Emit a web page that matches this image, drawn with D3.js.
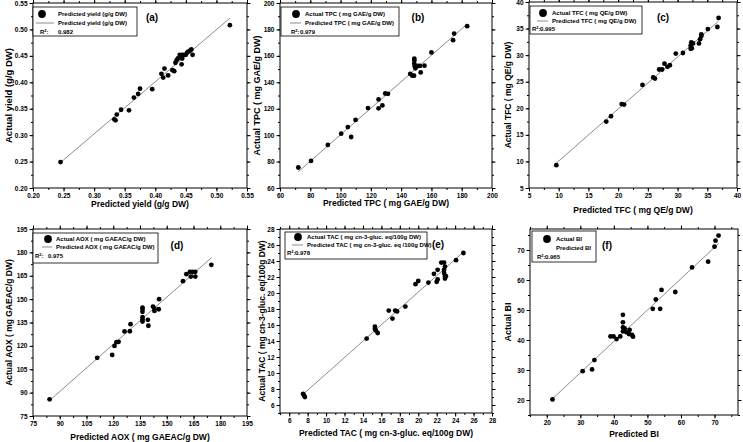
<!DOCTYPE html>
<html><head><meta charset="utf-8">
<script src="https://cdn.jsdelivr.net/npm/d3@7"></script>
<style>
body{margin:0;background:#fff}
text{font-family:"Liberation Sans",Arial,sans-serif;font-weight:bold;fill:#000}
</style>
</head><body>
<svg id="chart" width="743" height="442"></svg>
<script>
// ---------- data ----------
const yieldPred   = [0.245,0.333,0.335,0.337,0.344,0.357,0.365,0.372,0.375,0.395,0.410,0.413,0.415,0.421,0.428,0.431,0.433,0.435,0.437,0.440,0.444,0.443,0.444,0.447,0.450,0.452,0.454,0.457,0.459,0.461,0.522];
const yieldActual = [0.249,0.330,0.328,0.339,0.348,0.347,0.371,0.378,0.388,0.387,0.416,0.409,0.426,0.413,0.423,0.421,0.437,0.442,0.445,0.452,0.452,0.434,0.445,0.452,0.452,0.456,0.458,0.460,0.462,0.452,0.508];

const tpcPred   = [72.1,80.5,91.6,100.4,104.8,107,109.9,118.1,125.1,125.1,127.6,129.5,131.3,146,147.4,148.7,148.7,148.7,149,149.4,148.5,151.2,152.4,155.4,152.9,160,174.3,175,183.6];
const tpcActual = [75.5,80.5,92.6,101.1,106.1,98.6,111.5,120.5,127,120.3,122.5,131.5,131.3,146.3,145,157.9,156.4,154.1,152.1,150.6,145,152.4,152.4,152.6,147.5,162.6,171.9,176.9,182.5];

const tfcPred   = [9.6,18.0,18.8,20.6,21.0,24.1,25.9,26.2,26.9,27.4,27.8,28.3,28.7,29.7,30.9,32.2,32.2,32.3,32.6,32.4,33.6,33.8,34.0,34.0,35.1,36.7,36.9];
const tfcActual = [9.3,17.5,18.5,20.8,20.7,24.4,25.8,25.6,27.3,27.3,28.4,27.8,28.1,30.3,30.4,31.2,31.8,32.4,32.2,31.3,32.2,33.0,33.6,33.9,34.9,35.3,37.0];

const aoxPred   = [84.3,111,119.4,120.7,121.8,123,126.3,129.3,129.7,136.4,136.4,136.4,136.4,136.4,136.4,139.4,139.7,142.3,143.1,143.1,145.5,145.7,159.1,161,163,164.5,166,163.5,166,175];
const aoxActual = [85.7,112.3,114.2,120,122.4,122.6,129.3,129.4,133.9,136.9,138.4,135.6,143.6,141.9,144.6,136.7,132.9,145.2,143.9,142.4,143.5,150,161.5,166,167.5,167.5,167.5,164.5,164.5,172];

const tacPred   = [7.5,7.6,7.7,14.4,15.3,15.3,15.4,15.6,16.8,17.2,17.5,17.7,18.6,19.7,20.0,21.1,21.7,22.1,22.0,22.1,22.5,22.8,22.8,22.9,22.8,22.9,22.9,23.0,24.1,24.9];
const tacActual = [7.4,7.2,7.0,14.3,15.8,15.5,15.3,15.0,17.8,16.8,17.8,17.7,18.3,21.1,21.5,21.3,22.4,22.9,21.4,21.7,23.8,23.8,22.9,23.3,22.5,22.1,21.8,22.1,24.1,25.0];

const biPred   = [21.7,30.7,33.5,34.2,39.0,39.9,40.8,41.9,42.7,42.7,42.7,42.7,43.2,43.7,44.5,44.7,45.4,45.7,51.6,52.5,53.8,54.2,58.3,63.3,68.1,70.0,70.3,71.2];
const biActual = [20.2,29.6,30.2,33.3,41.2,41.2,40.3,41.2,48.4,45.9,44.2,42.9,43.9,42.6,42.0,43.4,41.7,41.1,50.4,53.5,50.4,56.7,56.0,64.2,66.1,71.1,73.1,74.8];

// tick labels
const yieldTicks = [0.20,0.25,0.30,0.35,0.40,0.45,0.50,0.55];
const tpcTicks   = [60,80,100,120,140,160,180,200];
const tfcTicks   = [5,10,15,20,25,30,35,40];
const aoxTicks   = [75,90,105,120,135,150,165,180,195];
const tacTicks   = [6,8,10,12,14,16,18,20,22,24,26,28];
const biTicks    = [20,30,40,50,60,70];

const r2Values = ["0.982","0.979","0.995","0.975","0.978","0.965"];
const panelTags = ["(a)","(b)","(c)","(d)","(e)","(f)"];

// ---------- layout ----------
const panels = [
  {tag:0, px:yieldPred, py:yieldActual, dom:[0.20,0.55], ticks:yieldTicks, minor:0.025, fmt:d3.format(".2f"),
   box:[33,247,3,188], xt:"Predicted yield (g/g DW)", yt:"Actual yield (g/g DW)", xtY:204, ytX:9, ytS:9.5,
   leg:{x0:33,x1:137,y0:7,y1:36,cx:42,tx:58,rows:[14,23,32],rx:40,vx:58}, lab:["Predicted yield (g/g DW)","Predicted yield (g/g DW)"], tagPos:[152,17]},
  {tag:1, px:tpcPred, py:tpcActual, dom:[60,200], ticks:tpcTicks, minor:10, fmt:d3.format("d"),
   box:[280,492,3,188], xt:"Predicted TPC ( mg GAE/g DW)", yt:"Actual TPC ( mg GAE/g DW)", xtY:203, ytX:257, ytS:9,
   leg:{x0:281,x1:399,y0:7,y1:36,cx:296,tx:305,rows:[14,23,32],rx:291,vx:300}, lab:["Actual TPC ( mg GAE/g DW)","Predicted TPC ( mg GAE/g DW)"], tagPos:[418,17]},
  {tag:2, px:tfcPred, py:tfcActual, dom:[5,40], ticks:tfcTicks, minor:2.5, fmt:d3.format("d"),
   box:[529,737,2,188], xt:"Predicted TFC ( mg QE/g DW)", yt:"Actual TFC ( mg QE/g DW)", xtY:210, ytX:508, ytS:8.5,
   leg:{x0:530,x1:642,y0:6,y1:34,cx:543,tx:552,rows:[13,21,29],rx:532,vx:540}, lab:["Actual TFC ( mg QE/g DW)","Predicted TFC ( mg QE/g DW)"], tagPos:[663,17]},
  {tag:3, px:aoxPred, py:aoxActual, dom:[75,195], ticks:aoxTicks, minor:7.5, fmt:d3.format("d"),
   box:[33,247,229,416], xt:"Predicted AOX ( mg GAEAC/g DW)", yt:"Actual AOX ( mg GAEAC/g DW)", xtY:437, ytX:9, ytS:8.5,
   leg:{x0:33,x1:158,y0:233,y1:263,cx:48,tx:56,rows:[239,247,256],rx:35,vx:48}, lab:["Actual AOX ( mg GAEAC/g DW)","Predicted AOX ( mg GAEAC/g DW)"], tagPos:[177,245]},
  {tag:4, px:tacPred, py:tacActual, dom:[5,28], ticks:tacTicks, minor:1, fmt:d3.format("d"),
   box:[280,492,229,413], xt:"Predicted TAC ( mg cn-3-gluc. eq/100g DW)", yt:"Actual TAC ( mg cn-3-gluc. eq/100g DW)", xtY:433, ytX:262, ytS:8.5,
   leg:{x0:285,x1:427,y0:232,y1:259,cx:298,tx:307,rows:[237,245,253],rx:287,vx:295}, lab:["Actual TAC ( mg cn-3-gluc. eq/100g DW)","Predicted TAC ( mg cn-3-gluc. eq /100g DW)"], tagPos:[438,244]},
  {tag:5, px:biPred, py:biActual, dom:[15,77], ticks:biTicks, minor:5, fmt:d3.format("d"),
   box:[530,738,229,415], xt:"Predicted BI", yt:"Actual BI", xtY:434, ytX:508, ytS:9,
   leg:{x0:532,x1:596,y0:231,y1:262,cx:547,tx:556,rows:[239,248,257],rx:537,vx:545,noLine:true}, lab:["Actual BI","Predicted BI"], tagPos:[607,245]}
];

const svg = d3.select("#chart");

function minorVals(dom, step){
  const out=[]; const s=Math.ceil(dom[0]/step-1e-9);
  for(let i=s; i*step<=dom[1]+1e-9; i++) out.push(+(i*step).toFixed(6));
  return out;
}

panels.forEach(p=>{
  const [l,r,t,b] = p.box;
  const x = d3.scaleLinear().domain(p.dom).range([l,r]);
  const y = d3.scaleLinear().domain(p.dom).range([b,t]);
  const g = svg.append("g");
  const mv = minorVals(p.dom, p.minor);

  const styleAxis = sel=>{ sel.select(".domain").remove(); sel.selectAll("line").attr("stroke","#000"); };

  g.append("g").attr("transform",`translate(0,${b})`).call(d3.axisBottom(x).tickValues(mv).tickSize(2).tickFormat("")).call(styleAxis);
  g.append("g").attr("transform",`translate(${l},0)`).call(d3.axisLeft(y).tickValues(mv).tickSize(2).tickFormat("")).call(styleAxis);
  g.append("g").attr("transform",`translate(0,${t})`).call(d3.axisTop(x).tickValues(mv).tickSize(2).tickFormat("")).call(styleAxis);
  g.append("g").attr("transform",`translate(${r},0)`).call(d3.axisRight(y).tickValues(mv).tickSize(2).tickFormat("")).call(styleAxis);
  const bx = g.append("g").attr("transform",`translate(0,${b})`).call(d3.axisBottom(x).tickValues(p.ticks).tickSize(3.5).tickPadding(2).tickFormat(p.fmt)).call(styleAxis);
  const ly = g.append("g").attr("transform",`translate(${l},0)`).call(d3.axisLeft(y).tickValues(p.ticks).tickSize(3.5).tickPadding(2).tickFormat(p.fmt)).call(styleAxis);
  g.append("g").attr("transform",`translate(0,${t})`).call(d3.axisTop(x).tickValues(p.ticks).tickSize(3.5).tickFormat("")).call(styleAxis);
  g.append("g").attr("transform",`translate(${r},0)`).call(d3.axisRight(y).tickValues(p.ticks).tickSize(3.5).tickFormat("")).call(styleAxis);
  [bx,ly].forEach(a=>a.selectAll("text").style("font-size","6.5px").style("font-family",'"Liberation Sans",Arial,sans-serif').style("font-weight","bold"));

  g.append("rect").attr("x",l).attr("y",t).attr("width",r-l).attr("height",b-t).attr("fill","none").attr("stroke","#000").attr("stroke-width",1);

  // least-squares fit line
  const n=p.px.length, mx=d3.mean(p.px), my=d3.mean(p.py);
  let sxy=0,sxx=0; for(let i=0;i<n;i++){sxy+=(p.px[i]-mx)*(p.py[i]-my); sxx+=(p.px[i]-mx)**2;}
  const slope=sxy/sxx, icpt=my-slope*mx;
  const [x0,x1]=d3.extent(p.px);
  g.append("line").attr("x1",x(x0)).attr("y1",y(icpt+slope*x0)).attr("x2",x(x1)).attr("y2",y(icpt+slope*x1))
    .attr("stroke","#8c8c8c").attr("stroke-width",1);

  g.selectAll("circle.pt").data(p.px.map((v,i)=>[v,p.py[i]])).join("circle").attr("class","pt")
    .attr("cx",d=>x(d[0])).attr("cy",d=>y(d[1])).attr("r",2.4).attr("fill","#000");

  const L=p.leg;
  g.append("rect").attr("x",L.x0).attr("y",L.y0).attr("width",L.x1-L.x0).attr("height",L.y1-L.y0).attr("fill","#fff").attr("stroke","#000").attr("stroke-width",0.8);
  g.append("circle").attr("cx",L.cx).attr("cy",L.rows[0]).attr("r",3.9).attr("fill","#000");
  if(!L.noLine) g.append("line").attr("x1",L.cx-6).attr("x2",L.tx-4).attr("y1",L.rows[1]).attr("y2",L.rows[1]).attr("stroke","#8c8c8c").attr("stroke-width",1);
  g.append("text").attr("x",L.tx).attr("y",L.rows[0]).attr("dy","0.35em").style("font-size","6px").text(p.lab[0]);
  g.append("text").attr("x",L.tx).attr("y",L.rows[1]).attr("dy","0.35em").style("font-size","6px").text(p.lab[1]);
  const rt=g.append("text").attr("x",L.rx).attr("y",L.rows[2]).attr("dy","0.35em").style("font-size","6px");
  rt.append("tspan").text("R");
  rt.append("tspan").attr("dy","-2").style("font-size","4px").text("2");
  rt.append("tspan").attr("dy","2").text(":");
  g.append("text").attr("x",L.vx).attr("y",L.rows[2]).attr("dy","0.35em").style("font-size","6px").text(r2Values[p.tag]);

  g.append("text").attr("x",p.tagPos[0]).attr("y",p.tagPos[1]).attr("dy","0.35em").attr("text-anchor","middle").style("font-size","10px").text(panelTags[p.tag]);

  g.append("text").attr("x",(l+r)/2).attr("y",p.xtY).attr("dy","0.35em").attr("text-anchor","middle").style("font-size","8.5px").text(p.xt);
  g.append("text").attr("transform",`translate(${p.ytX},${(t+b)/2}) rotate(-90)`).attr("dy","0.35em").attr("text-anchor","middle").style("font-size",p.ytS+"px").text(p.yt);
});
</script>
</body></html>
